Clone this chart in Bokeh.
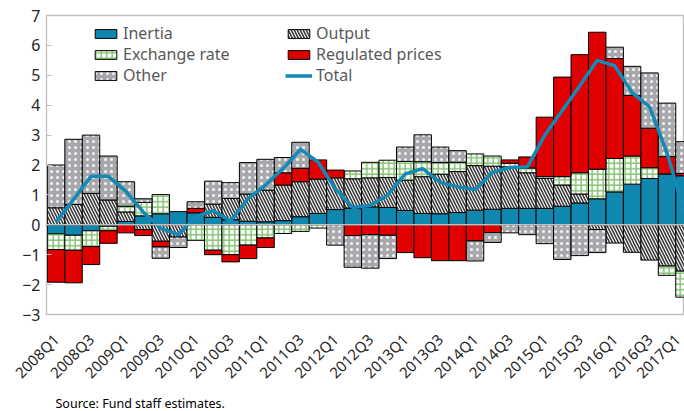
import numpy as np
from math import pi
from bokeh.plotting import figure
from bokeh.models import (ColumnDataSource, Range1d, FixedTicker, Legend, LegendItem,
                          Span, Title)
from bokeh.embed import file_html
from bokeh.resources import INLINE

quarters = ["2008Q1", "2008Q2", "2008Q3", "2008Q4", "2009Q1", "2009Q2", "2009Q3", "2009Q4",
            "2010Q1", "2010Q2", "2010Q3", "2010Q4", "2011Q1", "2011Q2", "2011Q3", "2011Q4",
            "2012Q1", "2012Q2", "2012Q3", "2012Q4", "2013Q1", "2013Q2", "2013Q3", "2013Q4",
            "2014Q1", "2014Q2", "2014Q3", "2014Q4", "2015Q1", "2015Q2", "2015Q3", "2015Q4",
            "2016Q1", "2016Q2", "2016Q3", "2016Q4", "2017Q1"]

inertia = [-0.30, -0.35, -0.20, -0.05, 0.11, 0.30, 0.37, 0.44, 0.40, 0.25, 0.17, 0.12,
           0.10, 0.14, 0.27, 0.38, 0.51, 0.56, 0.60, 0.58, 0.48, 0.38, 0.37, 0.41,
           0.49, 0.52, 0.55, 0.55, 0.55, 0.62, 0.73, 0.87, 1.10, 1.36, 1.55, 1.70, 1.64]
output = [0.57, 0.68, 1.05, 0.83, 0.32, -0.16, -0.55, -0.41, 0.0, 0.44, 0.71, 0.91,
          1.06, 1.19, 1.17, 1.15, 1.06, 0.98, 0.97, 1.00, 1.01, 1.23, 1.32, 1.37,
          1.49, 1.44, 1.39, 1.19, 1.00, 0.71, 0.30, -0.16, -0.61, -0.92, -1.18, -1.38, -1.55]
exchange = [-0.53, -0.50, -0.53, -0.15, 0.19, 0.45, 0.64, 0.0, -0.52, -0.85, -1.00, -0.68,
            -0.44, -0.29, -0.22, -0.11, 0.0, 0.26, 0.52, 0.58, 0.63, 0.50, 0.39, 0.31,
            0.39, 0.34, 0.12, 0.16, 0.06, 0.28, 0.71, 0.99, 1.12, 0.94, 0.36, -0.31, -0.87]
regulated = [-1.09, -1.09, -0.60, -0.42, -0.27, -0.20, -0.19, 0.0, 0.15, -0.15, -0.24, -0.45,
             -0.32, 0.41, 0.45, 0.64, 0.26, -0.36, -0.33, -0.35, -0.93, -1.10, -1.20, -1.20,
             -0.54, -0.26, 0.11, 0.37, 1.99, 3.33, 3.95, 4.58, 3.34, 2.03, 1.32, 0.58, 0.08]
other = [1.43, 2.18, 1.95, 1.47, 0.82, 0.12, -0.38, -0.35, 0.22, 0.77, 0.53, 1.05,
         1.03, 0.51, 0.87, 0.0, -0.68, -1.06, -1.12, -0.78, 0.48, 0.90, 0.52, 0.39,
         -0.67, -0.33, -0.27, -0.33, -0.63, -1.16, -1.03, -0.77, 0.38, 0.97, 1.85, 1.79, 1.06]
total = [0.10, 0.85, 1.62, 1.62, 1.12, 0.42, -0.12, -0.33, 0.27, 0.47, 0.13, 0.88,
         1.33, 1.88, 2.52, 2.10, 1.20, 0.58, 0.65, 1.00, 1.70, 1.88, 1.42, 1.27,
         1.18, 1.75, 1.92, 1.94, 3.00, 3.82, 4.65, 5.50, 5.32, 4.42, 3.94, 2.40, 0.40]

FONT = "Noto Sans"

p = figure(width=684, height=411, output_backend="svg", toolbar_location=None,
           x_range=Range1d(-0.55, 36), y_range=Range1d(-3, 7),
           min_border_left=46, min_border_right=0, min_border_top=15, min_border_bottom=97)
p.background_fill_color = "white"
p.border_fill_color = "white"
p.outline_line_color = "#bfbfbf"
p.outline_line_width = 1.3
p.xgrid.visible = False
p.ygrid.visible = False

idx = np.arange(len(quarters))

styles = [
    ("Inertia", inertia, dict(fill_color="#1087ae")),
    ("Output", output, dict(fill_color="white", hatch_pattern="left_diagonal_line",
                            hatch_color="#3a3a3a", hatch_scale=6, hatch_weight=1.6)),
    ("Exchange rate", exchange, dict(fill_color="white", hatch_pattern="cross",
                                     hatch_color="#8dc57c", hatch_scale=5.5, hatch_weight=1.6)),
    ("Regulated prices", regulated, dict(fill_color="#e00000")),
    ("Other", other, dict(fill_color="#a6a8ac", hatch_pattern="dot",
                          hatch_color="#f4f4f4", hatch_scale=6, hatch_weight=0.7)),
]

pos_base = np.zeros(len(idx))
neg_base = np.zeros(len(idx))
rends = {}
for name, vals, st in styles:
    v = np.array(vals, dtype=float)
    bottom = np.where(v >= 0, pos_base, neg_base)
    top = bottom + v
    pos_base = np.where(v >= 0, top, pos_base)
    neg_base = np.where(v < 0, top, neg_base)
    m = v != 0
    src = ColumnDataSource(dict(x=idx[m], bottom=bottom[m], top=top[m]))
    r = p.vbar(x="x", bottom="bottom", top="top", width=1.0, source=src,
               line_color="black", line_width=1, **st)
    rends[name] = r

p.add_layout(Span(location=0, dimension="width", line_color="#bfbfbf", line_width=1.5))

rl = p.line(x=idx, y=total, line_color="#1489b5", line_width=3.5)
rends["Total"] = rl

# axes
yax = p.yaxis[0]
yax.ticker = FixedTicker(ticks=list(range(-3, 8)))
yax.axis_line_color = "#bfbfbf"
yax.major_tick_line_color = "#bfbfbf"
yax.major_tick_in = 5
yax.major_tick_out = 0
yax.minor_tick_line_color = None
yax.major_label_text_font = FONT
yax.major_label_text_font_size = "16px"
yax.major_label_text_color = "#262626"
yax.major_label_standoff = 6

xax = p.xaxis[0]
xax.ticker = FixedTicker(ticks=list(range(0, 37, 2)))
xax.major_label_overrides = {i: quarters[i] for i in range(0, 37, 2)}
xax.major_label_orientation = pi / 4
xax.axis_line_color = "#bfbfbf"
xax.major_tick_line_color = None
xax.minor_tick_line_color = None
xax.major_label_text_font = FONT
xax.major_label_text_font_size = "15px"
xax.major_label_text_color = "#262626"
xax.major_label_standoff = 16

# legend: one single-item legend per entry, placed in two columns of three rows
legend_cols = [["Inertia", "Exchange rate", "Other"], ["Output", "Regulated prices", "Total"]]
col_x = [46, 239]
row_y = [270, 249, 228]
for ci, names in enumerate(legend_cols):
    for ri, n in enumerate(names):
        leg = Legend(items=[LegendItem(label=n, renderers=[rends[n]])],
                     location=(col_x[ci], row_y[ri]), orientation="vertical",
                     background_fill_alpha=0, border_line_color=None,
                     padding=0, margin=0, spacing=0,
                     glyph_width=27, glyph_height=11,
                     label_standoff=4, label_text_font=FONT,
                     label_text_font_size="16px", label_text_color="#595959")
        p.add_layout(leg, "center")

p.add_layout(Title(text="Source: Fund staff estimates.", align="left", offset=9,
                   text_font=FONT, text_font_size="12.5px", text_font_style="normal",
                   text_color="black", standoff=0), "below")

open("out.html", "w").write(file_html(p, INLINE))
